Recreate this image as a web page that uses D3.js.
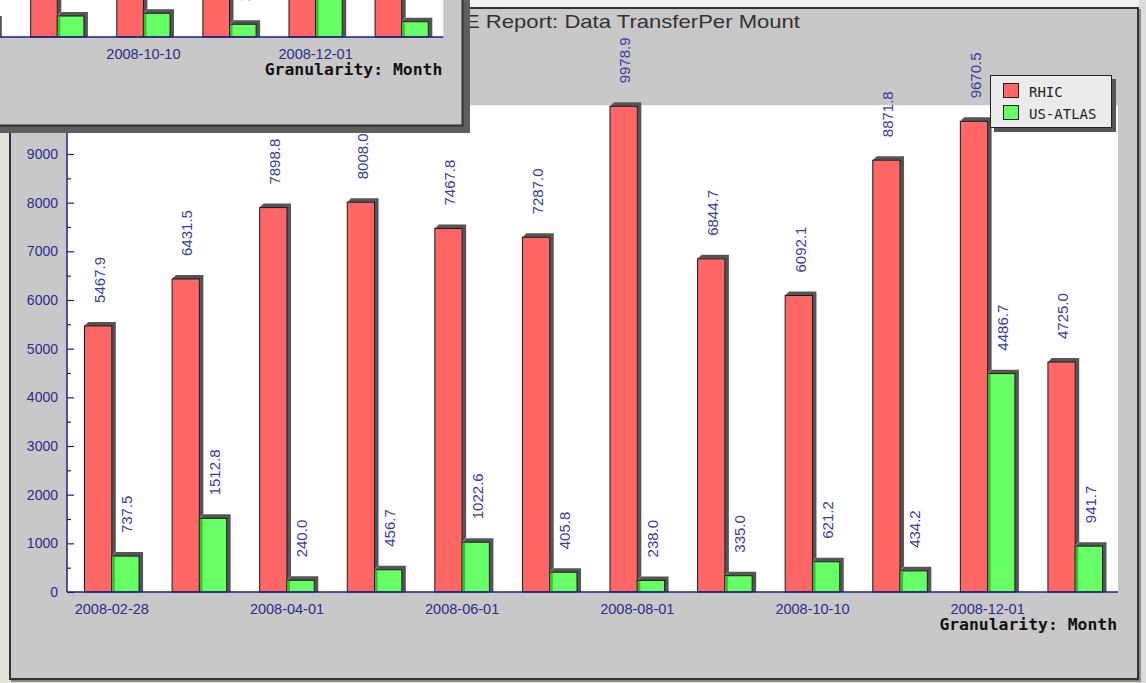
<!DOCTYPE html>
<html>
<head>
<meta charset="utf-8">
<script src="https://cdn.jsdelivr.net/npm/d3@7"></script>
<style>
  html, body { margin: 0; padding: 0; background: #e4e1da; overflow: hidden; }
  svg { display: block; }
</style>
</head>
<body>
<svg id="chart" width="1146" height="683"></svg>
<script>
// ---- data ----------------------------------------------------------------
const seriesNames = ["RHIC", "US-ATLAS"];
const seriesColors = ["#ff6666", "#66ff66"];

// one label on every other monthly category
const tickLabels = ["2008-02-28", null, "2008-04-01", null, "2008-06-01", null,
                    "2008-08-01", null, "2008-10-10", null, "2008-12-01", null];

const rhic    = [5467.9, 6431.5, 7898.8, 8008.0, 7467.8, 7287.0, 9978.9, 6844.7, 6092.1, 8871.8, 9670.5, 4725.0];
const usAtlas = [737.5, 1512.8, 240.0, 456.7, 1022.6, 405.8, 238.0, 335.0, 621.2, 434.2, 4486.7, 941.7];

// second report window (only its last six months are on screen)
const backIndex   = [6, 7, 8, 9, 10, 11];
const backRhic    = [2150.0, 1980.0, 2420.0, 2210.0, 2640.0, 1870.0];
const backUsAtlas = [350.0, 431.0, 487.0, 261.0, 1650.0, 314.0];

const yMax = 10000;
const yMajor = d3.range(0, 10000, 1000);
const yMinor = d3.range(500, 10000, 1000);

const titleText = "E Report: Data TransferPer Mount";
const footText = "Granularity: Month";

// ---- drawing -------------------------------------------------------------
const W = 1146, H = 683;
const svg = d3.select("#chart");
const SANS = "'Liberation Sans', Arial, sans-serif";
const MONO = "'DejaVu Sans Mono', monospace";
const NAVY = "#1c1c8c";
const LABEL = "#2c2c8a";
const VALUE = "#3c3ca4";

const defs = svg.append("defs");

// desktop behind the windows
svg.append("rect").attr("width", W).attr("height", H).attr("fill", "#e4e1da");
svg.append("rect").attr("x", 464).attr("y", 0).attr("width", W - 464).attr("height", 7).attr("fill", "#f2f2f2");
svg.append("rect").attr("x", 1139).attr("y", 0).attr("width", 7).attr("height", H).attr("fill", "#dcdcdc");

function drawChart(g, o) {
  const n = tickLabels.length;
  const x = d3.scaleBand().domain(d3.range(n)).range([o.bandL, o.bandR])
    .paddingInner(o.pad).paddingOuter(o.pad / 2);
  const sub = d3.scaleBand().domain(seriesNames).range([0, x.bandwidth()]);
  const y = d3.scaleLinear().domain([0, yMax]).range([o.base, o.base - o.pxPer1000 * 10]);
  const D = 4;
  const fmt = d3.format(".1f");

  // plot background
  g.append("rect")
    .attr("x", o.plotL).attr("y", y(yMax))
    .attr("width", o.plotR - o.plotL).attr("height", o.base - y(yMax))
    .attr("fill", "#ffffff");

  const bars = g.append("g");
  const labels = g.append("g");
  o.rows.forEach(r => {
    seriesNames.forEach((s, k) => {
      const v = r.values[k];
      const bx = x(r.i) + sub(s);
      const w = sub.bandwidth();
      const yt = y(v), yb = y(0);
      // raised side/top face
      bars.append("polygon")
        .attr("points", [[bx, yt], [bx + D, yt - D], [bx + w + D, yt - D], [bx + w + D, yb], [bx + w, yb], [bx + w, yt]].join(" "))
        .attr("fill", "#555555");
      bars.append("line")
        .attr("x1", bx).attr("y1", yt).attr("x2", bx + D).attr("y2", yt - D)
        .attr("stroke", "#9a9a9a").attr("stroke-width", 1);
      bars.append("rect")
        .attr("x", bx).attr("y", yt).attr("width", w).attr("height", yb - yt)
        .attr("fill", seriesColors[k]).attr("stroke", "#1a1a1a").attr("stroke-width", 1);
      if (k === 1) {
        bars.append("rect")
          .attr("x", bx + 0.5).attr("y", yt + 0.5).attr("width", 2.5).attr("height", Math.max(0, yb - yt - 1))
          .attr("fill", "#30c030");
      }
      const labelEnd = yt - 23;
      if (labelEnd > o.labelMinY) {
        labels.append("text")
          .attr("transform", `translate(${bx + w / 2 + 1.5},${labelEnd}) rotate(-90)`)
          .attr("dy", "0.35em")
          .attr("text-anchor", "start")
          .attr("font-family", SANS).attr("font-size", 15)
          .attr("fill", VALUE)
          .text(fmt(v));
      }
    });
  });

  // value axis: ticks point into the plot
  if (o.valueAxis) {
    const yAxis = g.append("g").attr("transform", `translate(${o.plotL},0)`)
      .call(d3.axisLeft(y).tickValues(yMajor).tickSize(-7).tickPadding(9).tickFormat(d3.format("d")));
    yAxis.select(".domain").remove();
    yAxis.selectAll("line").attr("stroke", NAVY).attr("stroke-width", 1.2);
    yAxis.selectAll("text").attr("font-family", SANS).attr("font-size", 14).attr("fill", LABEL);

    const yMinorAxis = g.append("g").attr("transform", `translate(${o.plotL},0)`)
      .call(d3.axisLeft(y).tickValues(yMinor).tickSize(-4).tickFormat(""));
    yMinorAxis.select(".domain").remove();
    yMinorAxis.selectAll("line").attr("stroke", NAVY).attr("stroke-width", 1.2);

    g.append("line")
      .attr("x1", o.plotL).attr("x2", o.plotL).attr("y1", y(yMax)).attr("y2", o.base)
      .attr("stroke", NAVY).attr("stroke-width", 1.5);
  }

  // category axis
  const shown = d3.range(n).filter(i => tickLabels[i] && x(i) + x.bandwidth() > o.tickMinX);
  const xAxis = g.append("g").attr("transform", `translate(0,${o.base})`)
    .call(d3.axisBottom(x).tickValues(shown)
      .tickSize(0).tickPadding(12).tickFormat(i => tickLabels[i]));
  xAxis.select(".domain").remove();
  xAxis.selectAll("text").attr("font-family", SANS).attr("font-size", 14.5).attr("fill", LABEL);

  g.append("line")
    .attr("x1", o.plotL).attr("x2", o.plotR).attr("y1", o.base).attr("y2", o.base)
    .attr("stroke", NAVY).attr("stroke-width", 1.5);

  g.append("text")
    .attr("x", o.plotR - 1).attr("y", o.base + 38)
    .attr("text-anchor", "end")
    .attr("font-family", MONO).attr("font-weight", "bold").attr("font-size", 16.4)
    .attr("fill", "#111")
    .text(footText);
}

// ---- main report window ---------------------------------------------------
svg.append("rect").attr("x", 11).attr("y", 9).attr("width", 1130).attr("height", 673).attr("fill", "#8a8a8a");
svg.append("rect").attr("x", 10).attr("y", 8).attr("width", 1128).attr("height", 671)
  .attr("fill", "#c8c8c8").attr("stroke", "#333").attr("stroke-width", 2);

svg.append("text")
  .attr("x", 465).attr("y", 28)
  .attr("font-family", SANS).attr("font-size", 18.5)
  .attr("fill", "#333")
  .attr("textLength", 335).attr("lengthAdjust", "spacingAndGlyphs")
  .text(titleText);

const mainG = svg.append("g");
drawChart(mainG, {
  plotL: 67, plotR: 1118, base: 592, pxPer1000: 48.67,
  bandL: 68, bandR: 1119, pad: 0.377,
  valueAxis: true, labelMinY: -1000, tickMinX: -1000,
  rows: rhic.map((v, i) => ({ i, values: [v, usAtlas[i]] }))
});

// legend
const lg = svg.append("g").attr("transform", "translate(990,75)");
lg.append("rect").attr("x", 4).attr("y", 4).attr("width", 122).attr("height", 53).attr("fill", "#555");
lg.append("rect").attr("x", 0.5).attr("y", 0.5).attr("width", 121).attr("height", 52)
  .attr("fill", "#ebebeb").attr("stroke", "#222").attr("stroke-width", 1);
seriesNames.forEach((s, k) => {
  const row = lg.append("g").attr("transform", `translate(0,${8 + k * 22})`);
  row.append("rect").attr("x", 13.5).attr("y", 0.5).attr("width", 15).attr("height", 14)
    .attr("fill", seriesColors[k]).attr("stroke", "#222").attr("stroke-width", 1);
  row.append("text").attr("x", 39).attr("y", 13.5)
    .attr("font-family", MONO).attr("font-size", 14).attr("fill", "#222")
    .text(s);
});

// ---- second report window, partly on screen --------------------------------
svg.append("rect").attr("x", -10).attr("y", 0).attr("width", 480).attr("height", 133).attr("fill", "#5e5e5e");
svg.append("rect").attr("x", -10).attr("y", -10).attr("width", 472.5).attr("height", 135.5)
  .attr("fill", "#c8c8c8").attr("stroke", "#333").attr("stroke-width", 2);

defs.append("clipPath").attr("id", "backClip")
  .append("rect").attr("x", 0).attr("y", 0).attr("width", 461.5).attr("height", 124.5);

const backG = svg.append("g").attr("clip-path", "url(#backClip)");
drawChart(backG, {
  plotL: -640, plotR: 443.3, base: 37, pxPer1000: 48.67,
  bandL: -588.45, bandR: 444.75, pad: 0.382,
  valueAxis: false, labelMinY: 0, tickMinX: 0,
  rows: backIndex.map((i, j) => ({ i, values: [backRhic[j], backUsAtlas[j]] }))
});
</script>
</body>
</html>
